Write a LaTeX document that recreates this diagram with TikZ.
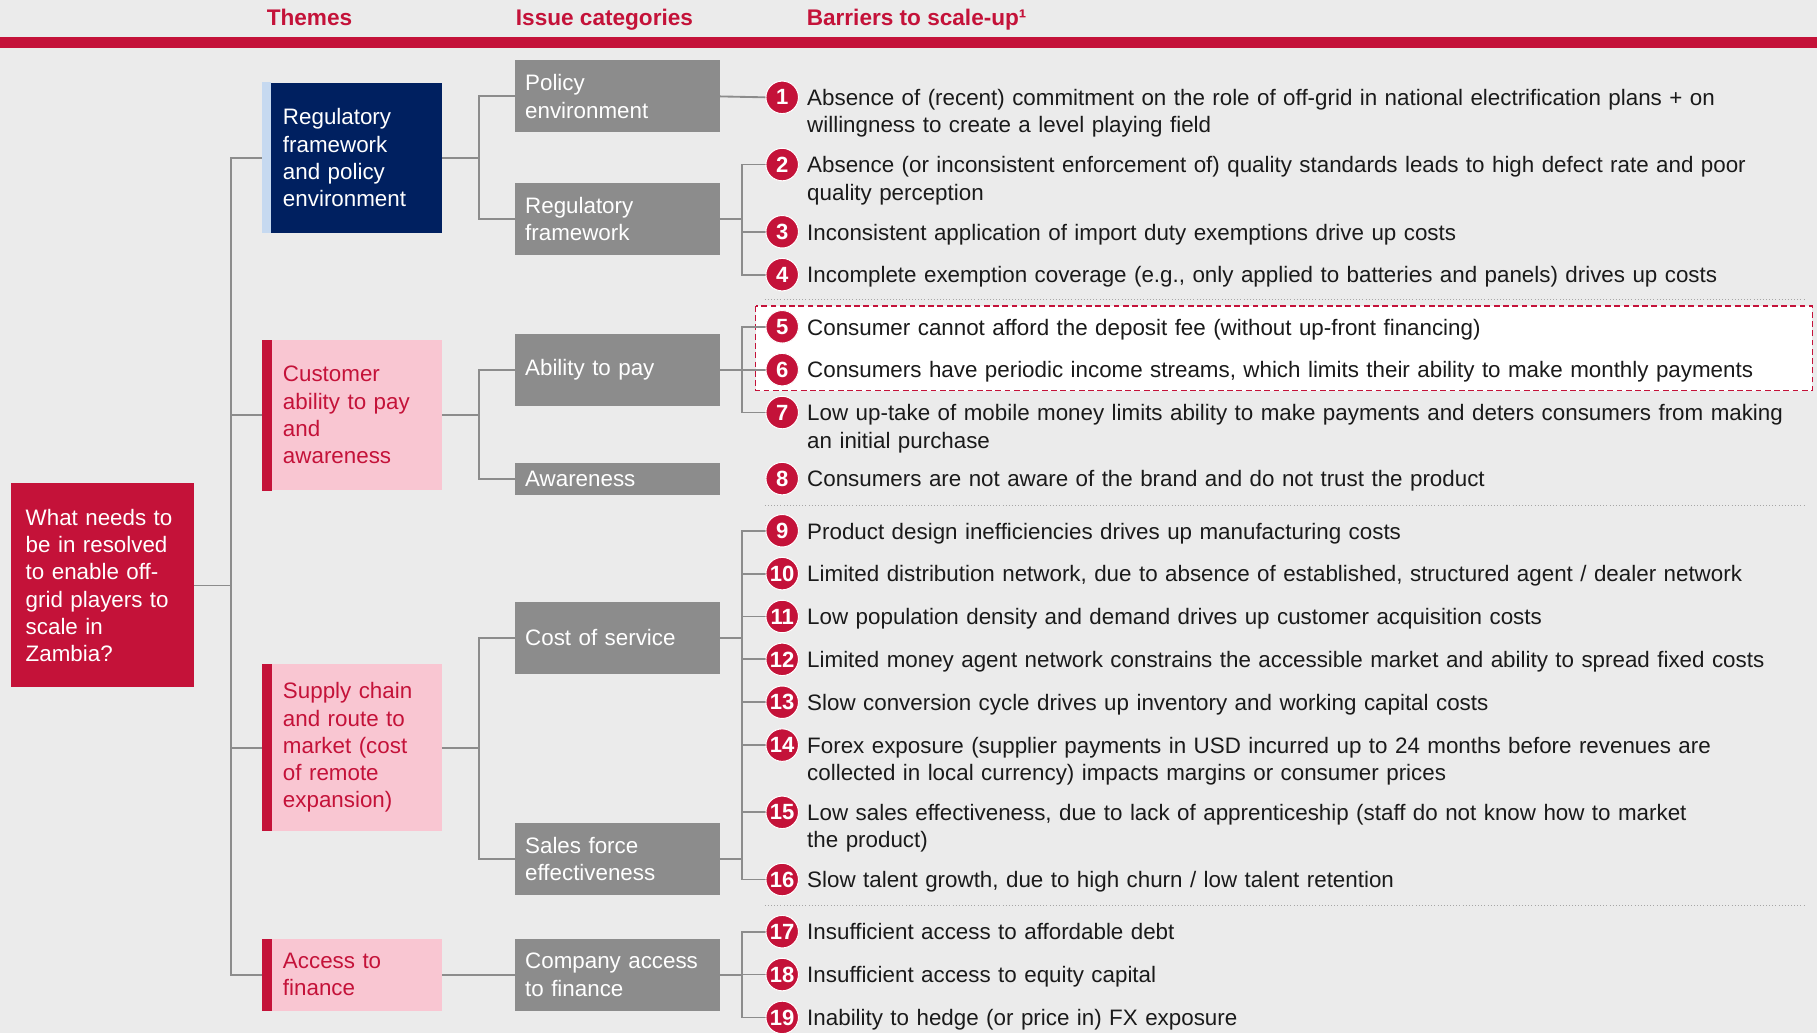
\documentclass[tikz,border=0pt]{standalone}
\usepackage{fontspec}
\setmainfont{Liberation Sans}
\usetikzlibrary{positioning}

\definecolor{crimson}{RGB}{196,18,57}
\definecolor{navy}{RGB}{0,32,96}
\definecolor{paleblue}{RGB}{198,217,240}
\definecolor{pink}{RGB}{249,198,210}
\definecolor{boxgray}{RGB}{140,140,140}
\definecolor{bggray}{RGB}{235,235,235}
\definecolor{ink}{RGB}{26,26,26}

\newcommand{\bodyfont}{\fontsize{19.3}{23.5}\selectfont}

\begin{document}
\begin{tikzpicture}[
		x=1pt, y=-1pt,
		head/.style={anchor=base west, inner sep=0, text=crimson, font=\fontsize{19.5}{23}\selectfont\bfseries},
		question/.style={anchor=north west, fill=crimson, text=white, minimum height=176pt, text width=132pt, inner xsep=13pt, align=left, font=\bodyfont},
		theme/.style={anchor=north west, fill=pink, text=crimson, text width=119pt, inner xsep=18pt, align=left, font=\bodyfont},
		issue/.style={anchor=north west, fill=boxgray, text=white, minimum height=62pt, text width=159pt, inner xsep=9pt, align=left, font=\bodyfont},
		num/.style={circle, fill=crimson, draw=white, line width=0.8pt, minimum size=28pt, inner sep=0, text=white, font=\fontsize{19}{19}\selectfont\bfseries},
		item/.style={anchor=north west, inner sep=0, text=ink, text width=880pt, align=left, font=\bodyfont, execute at begin node=\strut},
		link/.style={draw=boxgray, line width=1.6pt},
		sep/.style={draw=black!35, dotted, line width=0.7pt},
		hilite/.style={draw=crimson, fill=white, line width=1.5pt, dash pattern=on 5pt off 3pt}
	]
	\useasboundingbox (0,0) rectangle (1568,891);
	\fill[bggray] (0,0) rectangle (1568,891);

	% column heads and rule
	\node[head] (hthemes) at (230,22) {Themes};
	\node[head] (hissues) at (445,22) {Issue categories};
	\node[head] (hbarriers) at (696,22) {Barriers to scale-up¹};
	\fill[crimson] (0,32) rectangle (1568,41);

	% question
	\node[question] (q) at (9,417) {What needs to\\be in resolved\\to enable off-\\grid players to\\scale in\\Zambia?};

	% themes
	\node[theme, fill=navy, text=white, minimum height=130pt] (t1) at (226,71) {Regulatory\\framework\\and policy\\environment};
	\node[theme, minimum height=130pt] (t2) at (226,293) {Customer\\ability to pay\\and\\awareness};
	\node[theme, minimum height=144pt] (t3) at (226,573) {Supply chain\\and route to\\market (cost\\of remote\\expansion)};
	\node[theme, minimum height=62pt] (t4) at (226,810) {Access to\\finance};
	\fill[paleblue] (t1.north west) rectangle ([xshift=8pt]t1.south west);
	\foreach \t in {t2,t3,t4}
		\fill[crimson] (\t.north west) rectangle ([xshift=9pt]\t.south west);

	% issue categories
	\node[issue] (c1) at (444,52) {Policy\\environment};
	\node[issue] (c2) at (444,158) {Regulatory\\framework};
	\node[issue] (c3) at (444,288) {Ability to pay};
	\node[issue, minimum height=28pt] (c4) at (444,399) {Awareness};
	\node[issue] (c5) at (444,519) {Cost of service};
	\node[issue] (c6) at (444,710) {Sales force\\effectiveness};
	\node[issue] (c7) at (444,810) {Company access\\to finance};

	% highlight and separators
	\draw[hilite] (652,264) rectangle (1564,337);
	\draw[sep] (660,258) -- (1557,258);
	\draw[sep] (660,436) -- (1557,436);
	\draw[sep] (660,781) -- (1557,781);

	% numbered barriers
	\foreach \i/\y in {1/84,2/142,3/200,4/237,5/282,6/319,7/356,8/413,9/458,10/495,
		11/532,12/569,13/606,14/643,15/701,16/759,17/804,18/841,19/878}
		\node[num] (n\i) at (675,\y) {\i};

	\coordinate (tr) at (199,0);
	\coordinate (cb) at (413,0);
	\coordinate (ib) at (640,0);

	% tree connectors
	\draw[link] (q.east) -- (q.east -| tr);
	\draw[link] (t1.west) -- (t1.west -| tr) -- (t4.west -| tr) -- (t4.west);
	\draw[link] (t2.west) -- (t2.west -| tr) (t3.west) -- (t3.west -| tr);

	\draw[link] (t1.east) -- (t1.east -| cb);
	\draw[link] (c1.west) -- (c1.west -| cb) -- (c2.west -| cb) -- (c2.west);
	\draw[link] (t2.east) -- (t2.east -| cb);
	\draw[link] (c3.west) -- (c3.west -| cb) -- (c4.west -| cb) -- (c4.west);
	\draw[link] (t3.east) -- (t3.east -| cb);
	\draw[link] (c5.west) -- (c5.west -| cb) -- (c6.west -| cb) -- (c6.west);
	\draw[link] (t4.east) -- (c7.west);

	\draw[link] (c1.east) -- (n1.west);
	\draw[link] (c2.east) -- (c2.east -| ib);
	\draw[link] (n2.west) -- (n2.west -| ib) -- (n4.west -| ib) -- (n4.west);
	\draw[link] (c3.east) -- (c3.east -| ib);
	\draw[link] (n5.west) -- (n5.west -| ib) -- (n7.west -| ib) -- (n7.west);
	\draw[link] (c5.east) -- (c5.east -| ib) (c6.east) -- (c6.east -| ib);
	\draw[link] (n9.west) -- (n9.west -| ib) -- (n16.west -| ib) -- (n16.west);
	\draw[link] (c7.east) -- (c7.east -| ib);
	\draw[link] (n17.west) -- (n17.west -| ib) -- (n19.west -| ib) -- (n19.west);
	\foreach \i in {3,6,10,11,12,13,14,15,18}
		\draw[link] (n\i.west) -- (n\i.west -| ib);
	\foreach \i in {1,...,19}
		\node[num] at (n\i) {\i};

	% barrier texts
	\node[item] (b1) at ([xshift=7pt,yshift=9.5pt]n1.east) {Absence of (recent) commitment on the role of off-grid in national electrification plans + on\\willingness to create a level playing field};
	\node[item] (b2) at ([xshift=7pt,yshift=9.5pt]n2.east) {Absence (or inconsistent enforcement of) quality standards leads to high defect rate and poor\\quality perception};
	\node[item] (b3) at ([xshift=7pt,yshift=9.5pt]n3.east) {Inconsistent application of import duty exemptions drive up costs};
	\node[item] (b4) at ([xshift=7pt,yshift=9.5pt]n4.east) {Incomplete exemption coverage (e.g., only applied to batteries and panels) drives up costs};
	\node[item] (b5) at ([xshift=7pt,yshift=9.5pt]n5.east) {Consumer cannot afford the deposit fee (without up-front financing)};
	\node[item] (b6) at ([xshift=7pt,yshift=9.5pt]n6.east) {Consumers have periodic income streams, which limits their ability to make monthly payments};
	\node[item] (b7) at ([xshift=7pt,yshift=9.5pt]n7.east) {Low up-take of mobile money limits ability to make payments and deters consumers from making\\an initial purchase};
	\node[item] (b8) at ([xshift=7pt,yshift=9.5pt]n8.east) {Consumers are not aware of the brand and do not trust the product};
	\node[item] (b9) at ([xshift=7pt,yshift=9.5pt]n9.east) {Product design inefficiencies drives up manufacturing costs};
	\node[item] (b10) at ([xshift=7pt,yshift=9.5pt]n10.east) {Limited distribution network, due to absence of established, structured agent / dealer network};
	\node[item] (b11) at ([xshift=7pt,yshift=9.5pt]n11.east) {Low population density and demand drives up customer acquisition costs};
	\node[item] (b12) at ([xshift=7pt,yshift=9.5pt]n12.east) {Limited money agent network constrains the accessible market and ability to spread fixed costs};
	\node[item] (b13) at ([xshift=7pt,yshift=9.5pt]n13.east) {Slow conversion cycle drives up inventory and working capital costs};
	\node[item] (b14) at ([xshift=7pt,yshift=9.5pt]n14.east) {Forex exposure (supplier payments in USD incurred up to 24 months before revenues are\\collected in local currency) impacts margins or consumer prices};
	\node[item] (b15) at ([xshift=7pt,yshift=9.5pt]n15.east) {Low sales effectiveness, due to lack of apprenticeship (staff do not know how to market\\the product)};
	\node[item] (b16) at ([xshift=7pt,yshift=9.5pt]n16.east) {Slow talent growth, due to high churn / low talent retention};
	\node[item] (b17) at ([xshift=7pt,yshift=9.5pt]n17.east) {Insufficient access to affordable debt};
	\node[item] (b18) at ([xshift=7pt,yshift=9.5pt]n18.east) {Insufficient access to equity capital};
	\node[item] (b19) at ([xshift=7pt,yshift=9.5pt]n19.east) {Inability to hedge (or price in) FX exposure};
\end{tikzpicture}
\end{document}
